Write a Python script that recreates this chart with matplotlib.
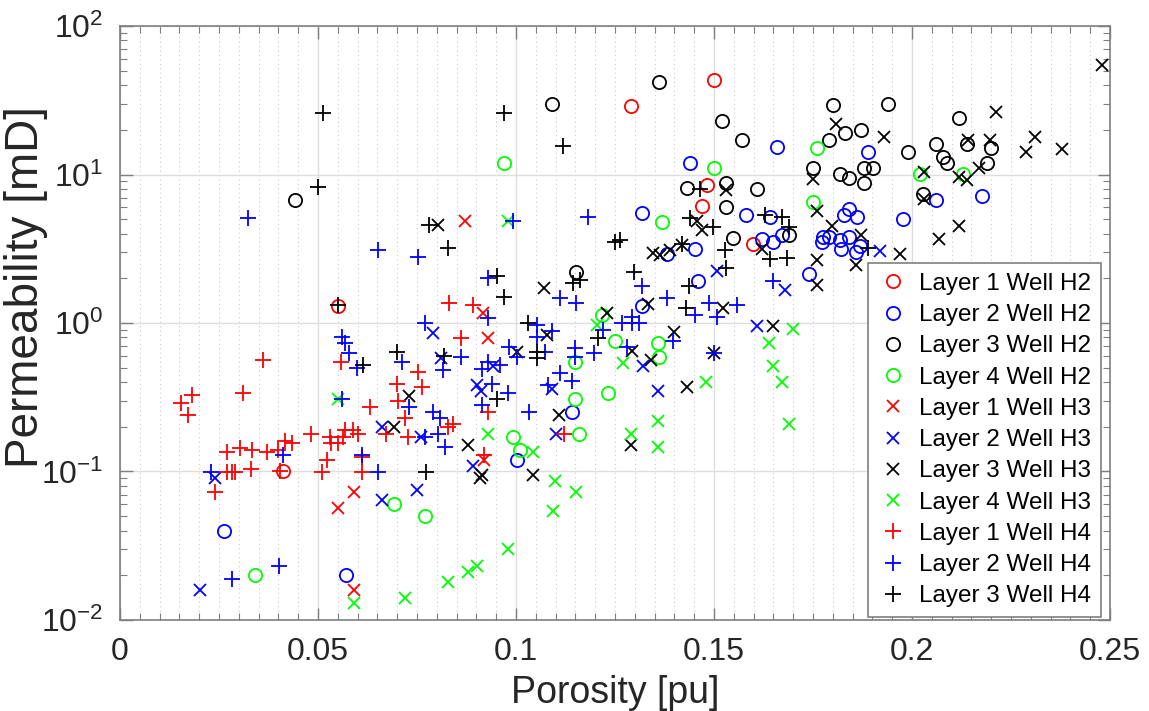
import matplotlib
matplotlib.use("Agg")
import matplotlib.pyplot as plt
from matplotlib.ticker import MultipleLocator, LogLocator, NullFormatter, FixedLocator

plt.rcParams["font.family"] = ["Liberation Sans", "DejaVu Sans"]
plt.rcParams["mathtext.fontset"] = "custom"
plt.rcParams["mathtext.rm"] = "Liberation Sans"

# ---- data: (porosity [pu], permeability [mD]) ----
l1_h2_phi = [0.0551, 0.129, 0.150, 0.1482, 0.147, 0.1598, 0.0412]
l1_h2_k = [1.30, 29, 43, 8.5, 6.1, 3.4, 0.10]

l2_h2_phi = [0.0263, 0.0571, 0.1003, 0.1141, 0.1318, 0.1439, 0.1381, 0.1452, 0.146, 0.1318,
             0.1581, 0.1659, 0.1889, 0.1621, 0.1649, 0.1672, 0.1841, 0.1828, 0.1861, 0.1977,
             0.2061, 0.2177, 0.1641, 0.1775, 0.179, 0.1773, 0.1818, 0.1841, 0.1821, 0.1859,
             0.1869, 0.174]
l2_h2_k = [0.040, 0.020, 0.12, 0.25, 5.5, 11.9, 2.9, 3.15, 1.92, 1.30,
           5.3, 15.3, 14.2, 3.7, 3.5, 3.9, 5.9, 5.3, 5.2, 5.0,
           6.7, 7.2, 5.2, 3.8, 3.8, 3.5, 3.6, 3.8, 3.15, 3.0,
           3.3, 2.14]

l3_h2_phi = [0.0442, 0.109, 0.136, 0.152, 0.157, 0.1432, 0.153, 0.153, 0.1609, 0.1548,
             0.1152, 0.1801, 0.1939, 0.2119, 0.179, 0.1831, 0.1871, 0.175, 0.199, 0.2061,
             0.2078, 0.2088, 0.2139, 0.2199, 0.2189, 0.1879, 0.1902, 0.1818, 0.1841, 0.1879,
             0.2028, 0.1689]
l3_h2_k = [6.7, 30, 42, 23, 17, 8.1, 8.8, 6.0, 8.0, 3.75,
           2.2, 29.5, 30, 24, 17, 19, 20, 11.1, 14.2, 16,
           13.1, 12, 16, 15, 11.9, 11.1, 11.1, 10.1, 9.5, 8.8,
           7.4, 3.9]

l4_h2_phi = [0.0341, 0.0692, 0.077, 0.097, 0.1369, 0.150, 0.1217, 0.125, 0.1359, 0.1361,
             0.1149, 0.1232, 0.1149, 0.1159, 0.0993, 0.101, 0.176, 0.175, 0.202, 0.2129]
l4_h2_k = [0.020, 0.060, 0.050, 11.9, 4.8, 11.1, 1.13, 0.76, 0.73, 0.59,
           0.55, 0.34, 0.31, 0.18, 0.17, 0.14, 15, 6.5, 10.1, 10.1]

l1_h3_phi = [0.0871, 0.0917, 0.0551, 0.0591, 0.0591, 0.0929, 0.0919]
l1_h3_k = [4.9, 1.17, 0.057, 0.073, 0.016, 0.79, 0.12]

l2_h3_phi = [0.0202, 0.024, 0.0662, 0.075, 0.0662, 0.076, 0.079, 0.0811, 0.0902, 0.0912,
             0.0942, 0.0891, 0.1091, 0.1101, 0.1321, 0.1359, 0.1609, 0.1508, 0.1919, 0.1679]
l2_h3_k = [0.016, 0.09, 0.064, 0.075, 0.20, 0.17, 0.86, 0.58, 0.38, 0.35,
           0.51, 0.109, 0.36, 0.18, 0.51, 0.35, 0.955, 2.24, 3.05, 1.67]

l3_h3_phi = [0.0803, 0.1071, 0.1333, 0.1346, 0.1364, 0.1389, 0.1419, 0.1457, 0.147, 0.153,
             0.1621, 0.1523, 0.123, 0.1649, 0.1399, 0.1808, 0.1929, 0.2212, 0.2141, 0.2197,
             0.2169, 0.2119, 0.2139, 0.203, 0.2311, 0.2288, 0.2379, 0.248, 0.175, 0.176,
             0.1798, 0.1871, 0.203, 0.2119, 0.2068, 0.197, 0.176, 0.1859, 0.176, 0.073,
             0.0692, 0.1003, 0.1078, 0.1109, 0.0879, 0.0914, 0.0909, 0.1043, 0.129, 0.1293,
             0.1341, 0.1432, 0.150]
l3_h3_k = [4.6, 1.72, 1.34, 2.96, 2.87, 3.1, 3.35, 4.9, 4.2, 7.9,
           3.15, 1.26, 1.17, 0.955, 0.87, 22, 17.9, 26.4, 17, 17,
           11.1, 9.6, 9.2, 10.4, 18, 14.2, 14.8, 55, 9.3, 5.7,
           4.5, 3.9, 6.8, 4.5, 3.7, 2.9, 2.65, 2.46, 1.8, 0.32,
           0.20, 0.64, 0.83, 0.24, 0.15, 0.095, 0.09, 0.095, 0.15, 0.65,
           0.56, 0.37, 0.63]

l4_h3_phi = [0.0551, 0.0591, 0.072, 0.0828, 0.0879, 0.0902, 0.098, 0.0929, 0.1043, 0.1098,
             0.1093, 0.1152, 0.129, 0.1359, 0.1359, 0.127, 0.148, 0.1205, 0.1639, 0.1649,
             0.1699, 0.1672, 0.1689, 0.098]
l4_h3_k = [0.31, 0.013, 0.014, 0.018, 0.021, 0.023, 0.030, 0.18, 0.135, 0.086,
           0.054, 0.073, 0.18, 0.22, 0.146, 0.54, 0.40, 0.97, 0.73, 0.51,
           0.91, 0.40, 0.21, 4.9]

l1_h4_phi = [0.0154, 0.0182, 0.0172, 0.0311, 0.0361, 0.024, 0.027, 0.0283, 0.029, 0.027,
             0.0303, 0.0333, 0.0331, 0.0371, 0.0399, 0.0434, 0.0417, 0.0482, 0.053, 0.0533,
             0.0551, 0.0568, 0.0588, 0.0601, 0.0563, 0.0523, 0.051, 0.0611, 0.0611, 0.0558,
             0.0631, 0.0672, 0.0699, 0.0702, 0.072, 0.0727, 0.0753, 0.0763, 0.0828, 0.0861,
             0.0841, 0.0929, 0.1121, 0.0919, 0.0831, 0.0891, 0.0405]
l1_h4_k = [0.29, 0.33, 0.24, 0.34, 0.56, 0.073, 0.099, 0.099, 0.099, 0.135,
           0.144, 0.14, 0.104, 0.135, 0.14, 0.155, 0.16, 0.18, 0.17, 0.155,
           0.155, 0.19, 0.19, 0.18, 0.17, 0.12, 0.099, 0.099, 0.125, 0.55,
           0.27, 0.18, 0.39, 0.30, 0.23, 0.17, 0.47, 0.37, 0.20, 0.79,
           0.21, 0.25, 0.18, 0.13, 1.36, 1.33, 0.10]

l2_h4_phi = [0.0323, 0.0652, 0.0753, 0.077, 0.0992, 0.1182, 0.0929, 0.0929, 0.1111, 0.1152,
             0.1318, 0.1381, 0.1487, 0.1558, 0.1452, 0.1508, 0.1649, 0.1268, 0.1293, 0.1311,
             0.1293, 0.1053, 0.1091, 0.1053, 0.1073, 0.0561, 0.0568, 0.0578, 0.0598, 0.0561,
             0.0412, 0.023, 0.0283, 0.0402, 0.0611, 0.0652, 0.0712, 0.073, 0.077, 0.079,
             0.0808, 0.0816, 0.0803, 0.0821, 0.0861, 0.0914, 0.0929, 0.096, 0.0939, 0.098,
             0.0914, 0.0982, 0.1003, 0.1033, 0.1081, 0.1111, 0.1141, 0.1149, 0.1149, 0.1197,
             0.122, 0.128, 0.1396, 0.150]
l2_h4_k = [5.1, 3.1, 2.8, 1.0, 4.9, 5.2, 2.0, 1.08, 1.47, 1.36,
           1.78, 1.47, 1.36, 1.32, 1.13, 1.10, 1.92, 1.0, 1.0, 1.0,
           1.1, 0.97, 0.88, 0.81, 0.64, 0.81, 0.73, 0.63, 0.50, 0.31,
           0.13, 0.099, 0.019, 0.023, 0.13, 0.099, 0.55, 0.27, 0.17, 0.25,
           0.23, 0.48, 0.18, 0.146, 0.59, 0.49, 0.55, 0.52, 0.39, 0.34,
           0.28, 0.69, 0.59, 0.25, 0.38, 0.46, 0.41, 0.68, 0.59, 0.63,
           0.90, 0.69, 0.76, 0.63]

l3_h4_phi = [0.0513, 0.050, 0.0551, 0.078, 0.0828, 0.097, 0.1119, 0.0952, 0.097, 0.125,
             0.1263, 0.1298, 0.1439, 0.1465, 0.1497, 0.1528, 0.153, 0.1629, 0.1672, 0.1641,
             0.1684, 0.1429, 0.1437, 0.103, 0.1144, 0.1162, 0.0818, 0.0952, 0.1207, 0.0699,
             0.0614, 0.0773, 0.1689, 0.1889, 0.1053, 0.1053, 0.142]
l3_h4_k = [26, 8.2, 1.32, 4.6, 3.2, 26, 15.6, 2.07, 1.50, 3.5,
           3.6, 2.2, 5.1, 8.0, 4.4, 3.1, 2.34, 5.3, 5.2, 2.7,
           2.74, 1.26, 1.78, 1.0, 1.86, 1.95, 0.60, 0.31, 0.79, 0.64,
           0.52, 0.099, 4.4, 3.2, 0.64, 0.58, 3.4]

series = [
    ("Layer 1 Well H2", l1_h2_phi, l1_h2_k, "o", "#ff0000"),
    ("Layer 2 Well H2", l2_h2_phi, l2_h2_k, "o", "#0000ff"),
    ("Layer 3 Well H2", l3_h2_phi, l3_h2_k, "o", "#000000"),
    ("Layer 4 Well H2", l4_h2_phi, l4_h2_k, "o", "#00ff00"),
    ("Layer 1 Well H3", l1_h3_phi, l1_h3_k, "x", "#ff0000"),
    ("Layer 2 Well H3", l2_h3_phi, l2_h3_k, "x", "#0000ff"),
    ("Layer 3 Well H3", l3_h3_phi, l3_h3_k, "x", "#000000"),
    ("Layer 4 Well H3", l4_h3_phi, l4_h3_k, "x", "#00ff00"),
    ("Layer 1 Well H4", l1_h4_phi, l1_h4_k, "+", "#ff0000"),
    ("Layer 2 Well H4", l2_h4_phi, l2_h4_k, "+", "#0000ff"),
    ("Layer 3 Well H4", l3_h4_phi, l3_h4_k, "+", "#000000"),
]
marker_size = {"o": 9.5, "x": 9.0, "+": 11.0}

fig = plt.figure(figsize=(11.49, 7.11), dpi=100)
ax = fig.add_axes([0.1044, 0.128, 0.8617, 0.8354])

for name, phi, k, m, c in series:
    ax.plot(phi, k, linestyle="none", marker=m, markersize=marker_size[m],
            markerfacecolor="none", markeredgecolor=c, markeredgewidth=1.3,
            label=name)

ax.set_yscale("log")
ax.set_xlim(0, 0.25)
ax.set_ylim(1e-2, 1e2)

ax.xaxis.set_major_locator(FixedLocator([0, 0.05, 0.1, 0.15, 0.2, 0.25]))
ax.set_xticklabels(["0", "0.05", "0.1", "0.15", "0.2", "0.25"])
ax.xaxis.set_minor_locator(MultipleLocator(0.005))
ax.yaxis.set_major_locator(LogLocator(base=10, numticks=10))
ax.yaxis.set_minor_locator(LogLocator(base=10, subs=range(2, 10), numticks=20))
ax.yaxis.set_minor_formatter(NullFormatter())

ax.grid(True, which="major", color="#dedede", linewidth=1.0)
ax.grid(True, which="minor", axis="x", color="#c8c8c8", linestyle=(0, (1, 3)), linewidth=0.8)
ax.set_axisbelow(True)

axis_gray = "#7f7f7f"
for sp in ax.spines.values():
    sp.set_color(axis_gray)
    sp.set_linewidth(1.2)
ax.tick_params(which="both", direction="in", top=True, right=True, colors=axis_gray,
               labelcolor="#262626")
ax.tick_params(which="major", length=9, width=1.0, labelsize=23, pad=12)
ax.tick_params(which="minor", length=5, width=0.8)

ax.set_xlabel("Porosity [pu]", fontsize=27, color="#262626", labelpad=6)
ax.set_ylabel("Permeability [mD]", fontsize=33, color="#262626")
ax.yaxis.set_label_coords(-0.073, 0.56)

leg = ax.legend(loc="lower right", bbox_to_anchor=(1 - 9 / 990, 3 / 594),
                fontsize=17.5, frameon=True, fancybox=False,
                edgecolor=axis_gray, framealpha=1.0, borderaxespad=0,
                labelspacing=0.38, handletextpad=0.42, handlelength=1.3,
                borderpad=0.4)
leg.get_frame().set_linewidth(1.2)

fig.savefig("out.png", dpi=100)
